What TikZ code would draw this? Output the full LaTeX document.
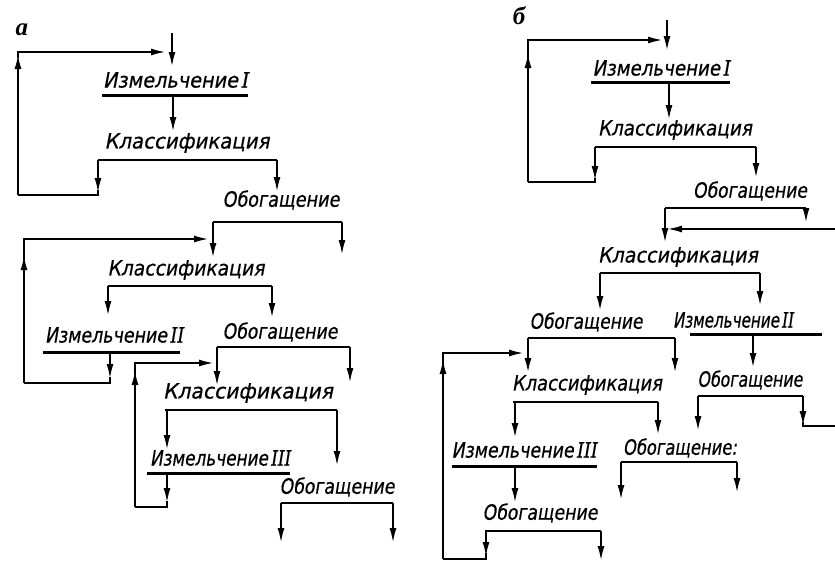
\documentclass[tikz,border=0pt]{standalone}
\usepackage{fontspec}
\setmainfont{DejaVu Sans}[FakeSlant=0.2,FakeBold=0.6]
\newfontfamily\numfont{DejaVu Serif}[FakeSlant=0.2,FakeBold=0.6]
\newfontfamily\labfont{Liberation Serif}[BoldItalicFont={* Bold Italic}]
\usetikzlibrary{arrows.meta}
\newcommand{\rnum}[1]{\hspace{0.12em}{\numfont #1}}
\newcommand{\tw}[2]{\resizebox{#1pt}{\height}{#2}}
\tikzset{
  txt/.style={font=\fontsize{21}{21}\selectfont, inner sep=0pt, anchor=center},
  plab/.style={font=\labfont\bfseries\itshape\fontsize{25}{25}\selectfont, inner sep=0pt},
  conn/.style={line width=1.4pt},
  arr/.style={conn, -{Latex[length=14pt,width=7pt]}},
  bar/.style={line width=2.6pt},
  uline/.style={line width=3pt}
}
\begin{document}
\begin{tikzpicture}[x=1pt,y=-1pt]
\useasboundingbox (0,0) rectangle (835,562);
\fill[white] (0,0) rectangle (835,562);
% ---------- panel a ----------
\node[plab] (la) at (22,30) {а};
\coordinate (ain) at (172,33);
\node[txt] (a1) at (175.5,80) {\tw{145}{Измельчение\rnum{I}}};
\draw[arr] (ain) -- (172,66);
\draw[uline] (102,95) -- (248,95);
\draw[arr] (173,95) -- (173,131);
\node[txt] (a2) at (187,143) {\tw{165}{Классификация}};
\draw[bar] (98,160) -- (277,160);
\draw[arr] (98,160) -- (98,192);
\draw[arr] (277,160) -- (277,191);
\draw[conn] (98,190) |- (18,195);
\draw[arr] (18,195) -- (18,55);
\draw[arr] (18,58) |- (165,52);
\node[txt] (a3) at (281,200) {\tw{117}{Обогащение}};
\draw[bar] (213,222) -- (342,222);
\draw[arr] (213,222) -- (213,257);
\draw[arr] (342,222) -- (342,254);
\draw[arr] (24,383) -- (24,256);
\draw[arr] (24,260) |- (208,239);
\node[txt] (a4) at (186,270) {\tw{157}{Классификация}};
\draw[bar] (108,286) -- (272,286);
\draw[arr] (108,286) -- (108,315);
\draw[arr] (272,286) -- (272,317);
\node[txt] (a5) at (114,335) {\tw{138}{Измельчение\rnum{II}}};
\draw[uline] (43,352) -- (180,352);
\draw[arr] (110,352) -- (110,378);
\draw[conn] (110,377) |- (24,383);
\node[txt] (a6) at (280,332) {\tw{115}{Обогащение}};
\draw[bar] (217,347) -- (350,347);
\draw[arr] (217,347) -- (217,385);
\draw[arr] (350,347) -- (350,382);
\draw[arr] (135,507) -- (135,371);
\draw[arr] (135,375) |- (213,363);
\node[txt] (a7) at (248,393) {\tw{170}{Классификация}};
\draw[bar] (165,410) -- (337,410);
\draw[arr] (167,410) -- (167,449);
\draw[arr] (337,410) -- (337,465);
\node[txt] (a8) at (220,458) {\tw{140}{Измельчение\rnum{III}}};
\draw[uline] (147,473) -- (290,473);
\draw[arr] (167,473) -- (167,502);
\draw[conn] (167,501) |- (135,507);
\node[txt] (a9) at (337,487) {\tw{115}{Обогащение}};
\draw[bar] (281,503) -- (393,503);
\draw[arr] (281,503) -- (281,542);
\draw[arr] (393,503) -- (393,542);
% ---------- panel b ----------
\node[plab] (lb) at (519,16) {б};
\draw[arr] (667,20) -- (667,50);
\node[txt] (b1) at (661,68) {\tw{137}{Измельчение\rnum{I}}};
\draw[uline] (591,82) -- (730,82);
\draw[arr] (669,82) -- (669,119);
\node[txt] (b2) at (675,130) {\tw{154}{Классификация}};
\draw[bar] (595,147) -- (756,147);
\draw[arr] (595,147) -- (595,180);
\draw[arr] (756,147) -- (756,177);
\draw[conn] (595,178) |- (528,182);
\draw[arr] (528,182) -- (528,54);
\draw[arr] (528,58) |- (662,40);
\node[txt] (b3) at (750,191) {\tw{114}{Обогащение}};
\draw[bar] (665,208) -- (806,208);
\draw[arr] (806,208) -- (806,222);
\draw[arr] (665,208) -- (665,242);
\draw[arr] (835,229) -- (668,229);
\node[txt] (b4) at (678,257) {\tw{160}{Классификация}};
\draw[bar] (600,273) -- (760,273);
\draw[arr] (600,273) -- (600,310);
\draw[arr] (760,273) -- (760,305);
\node[txt] (b5) at (586,322) {\tw{113}{Обогащение}};
\draw[bar] (528,338) -- (675,338);
\draw[arr] (528,338) -- (528,372);
\draw[arr] (675,338) -- (675,372);
\node[txt] (b6) at (733,320) {\tw{120}{Измельчение\rnum{II}}};
\draw[uline] (690,334) -- (822,334);
\draw[arr] (753,334) -- (753,367);
\draw[arr] (443,559) -- (443,360);
\draw[arr] (443,365) |- (523,353);
\node[txt] (b7) at (587,385) {\tw{150}{Классификация}};
\draw[bar] (513,402) -- (658,402);
\draw[arr] (515,402) -- (515,437);
\draw[arr] (658,402) -- (658,434);
\node[txt] (b8) at (750,380) {\tw{105}{Обогащение}};
\draw[bar] (698,396) -- (803,396);
\draw[arr] (698,396) -- (698,430);
\draw[arr] (803,396) -- (803,425);
\draw[conn] (803,422) |- (835,426);
\node[txt] (b9) at (524,450) {\tw{145}{Измельчение\rnum{III}}};
\draw[uline] (452,466) -- (597,466);
\draw[arr] (515,466) -- (515,502);
\node[txt] (b10) at (680,448) {\tw{114}{Обогащение:}};
\draw[bar] (621,462) -- (737,462);
\draw[arr] (621,462) -- (621,499);
\draw[arr] (737,462) -- (737,492);
\node[txt] (b11) at (540,513) {\tw{115}{Обогащение}};
\draw[bar] (485,531) -- (601,531);
\draw[arr] (486,531) -- (486,556);
\draw[arr] (601,531) -- (601,560);
\draw[conn] (486,553) |- (443,559);
\end{tikzpicture}
\end{document}
